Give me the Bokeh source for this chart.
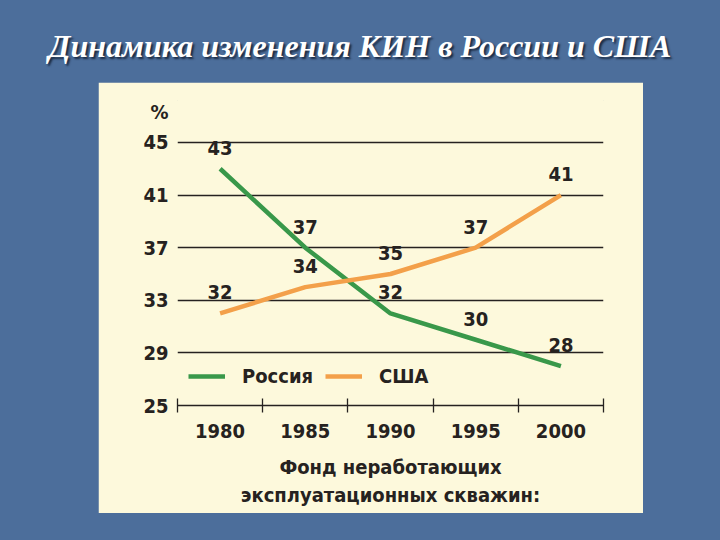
from bokeh.plotting import figure
from bokeh.models import Range1d, FixedTicker, Legend, LegendItem, Div, Spacer
from bokeh.layouts import column, row
from bokeh.embed import file_html
from bokeh.resources import INLINE
from bokeh.core.properties import value

# ---- data ----
title_text = "Динамика изменения КИН в России и США"
years = ["1980", "1985", "1990", "1995", "2000"]
russia = [43, 37, 32, 30, 28]
usa = [32, 34, 35, 37, 41]
y_ticks = [25, 29, 33, 37, 41, 45]
series_names = ["Россия", "США"]
y_unit = "%"
x_caption = ["Фонд неработающих", "эксплуатационных скважин:"]

# ---- styles ----
FONT = "DejaVu Sans Condensed, Roboto, sans-serif"
BLUE = "#4c6e9b"
CREAM = "#fdf9dc"
GREEN = "#39984a"
ORANGE = "#f3a04a"
INK = "#262220"
FS = "20px"
UNIT_POS = 47.3   # vertical place of the unit sign above the top tick

xpos = [i + 0.5 for i in range(len(years))]

p = figure(width=545, height=431,
           x_range=Range1d(0, len(years)), y_range=Range1d(25, 48.19),
           output_backend="svg", toolbar_location=None,
           min_border_left=79, min_border_right=40,
           min_border_top=18, min_border_bottom=108,
           background_fill_color=CREAM, border_fill_color=CREAM,
           outline_line_color=CREAM, outline_line_width=1)

# y axis (unit sign shown as an extra label above the top tick)
p.yaxis.ticker = FixedTicker(ticks=y_ticks + [UNIT_POS], minor_ticks=[])
p.yaxis.major_label_overrides = {UNIT_POS: y_unit}
p.yaxis.axis_line_color = None
p.yaxis.major_tick_line_color = None
p.yaxis.major_tick_in = 0
p.yaxis.major_tick_out = 0
p.yaxis.minor_tick_line_color = None
p.yaxis.major_label_standoff = 9
p.yaxis.major_label_text_font = FONT
p.yaxis.major_label_text_font_style = "bold"
p.yaxis.major_label_text_font_size = FS
p.yaxis.major_label_text_color = INK

# x axis
p.xaxis.ticker = FixedTicker(ticks=xpos, minor_ticks=list(range(len(years) + 1)))
p.xaxis.major_label_overrides = {x: y for x, y in zip(xpos, years)}
p.xaxis.major_tick_line_color = None
p.xaxis.major_tick_in = 0
p.xaxis.major_tick_out = 0
p.xaxis.minor_tick_in = 7
p.xaxis.minor_tick_out = 7
p.xaxis.minor_tick_line_color = INK
p.xaxis.minor_tick_line_width = 1.3
p.xaxis.axis_line_color = INK
p.xaxis.axis_line_width = 1.5
p.xaxis.major_label_standoff = 11
p.xaxis.major_label_text_font = FONT
p.xaxis.major_label_text_font_style = "bold"
p.xaxis.major_label_text_font_size = FS
p.xaxis.major_label_text_color = INK
p.xaxis.axis_label = "\n".join(x_caption)
p.xaxis.axis_label_standoff = 14
p.xaxis.axis_label_text_font = FONT
p.xaxis.axis_label_text_font_style = "bold"
p.xaxis.axis_label_text_font_size = FS
p.xaxis.axis_label_text_color = INK
p.xaxis.axis_label_text_line_height = 1.2

# grid
p.xgrid.grid_line_color = None
p.ygrid.ticker = FixedTicker(ticks=y_ticks[1:], minor_ticks=[])
p.ygrid.grid_line_color = INK
p.ygrid.grid_line_width = 1.3

r_ru = p.line(xpos, russia, line_color=GREEN, line_width=4.5)
r_us = p.line(xpos, usa, line_color=ORANGE, line_width=4.5)

for vals in (russia, usa):
    p.text(x=xpos, y=vals, text=[str(v) for v in vals],
           text_align="center", text_baseline="middle", y_offset=-21,
           text_font=value(FONT), text_font_style="bold",
           text_font_size=FS, text_color=INK)

legend = Legend(items=[LegendItem(label=series_names[0], renderers=[r_ru]),
                       LegendItem(label=series_names[1], renderers=[r_us])],
                orientation="horizontal", location=(11, 17),
                background_fill_alpha=0, border_line_color=None,
                glyph_width=37, glyph_height=20, label_standoff=17,
                spacing=12, padding=0, margin=0,
                label_text_font=FONT, label_text_font_style="bold",
                label_text_font_size=FS, label_text_color=INK)
p.add_layout(legend)

title_div = Div(text=('<div style="width:720px;text-align:center;'
                      'font-family:\'Liberation Serif\',serif;font-style:italic;'
                      'font-weight:bold;font-size:32px;line-height:92px;color:#ffffff;'
                      'text-shadow:2px 2px 2px #1c2c44;white-space:nowrap;">'
                      + title_text + '</div>'),
                width=720, height=82, margin=0)

layout = column(title_div,
                row(Spacer(width=98, height=431, margin=0), p, margin=0),
                width=720, height=540, margin=0,
                styles={"background-color": BLUE})

open("out.html", "w").write(file_html(layout, INLINE))
